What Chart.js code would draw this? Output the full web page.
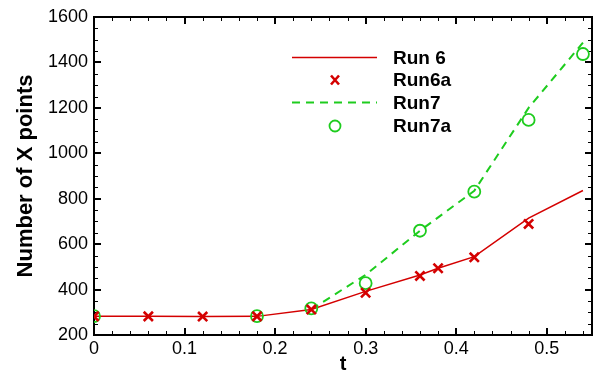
<!DOCTYPE html>
<html>
<head>
<meta charset="utf-8">
<script src="https://cdn.jsdelivr.net/npm/chart.js@4.4.0/dist/chart.umd.min.js"></script>
<style>
  html, body { margin: 0; padding: 0; background: #ffffff; }
  #wrap { width: 604px; height: 371px; position: relative; }
</style>
</head>
<body>
<div id="wrap"><canvas id="xpointsChart"></canvas></div>
<script>
// dados
const run6T  = [0, 0.06, 0.12, 0.18, 0.24, 0.30, 0.36, 0.38, 0.42, 0.48, 0.54];
const run6N  = [282, 282, 281, 282, 312, 392, 464, 494, 545, 715, 836];
const run6aT = [0, 0.06, 0.12, 0.18, 0.24, 0.30, 0.36, 0.38, 0.42, 0.48];
const run6aN = [282, 282, 281, 282, 312, 386, 460, 494, 542, 689];
const run7T  = [0.24, 0.30, 0.36, 0.42, 0.48, 0.54];
const run7N  = [313, 465, 659, 835, 1200, 1487];
const run7aT = [0, 0.18, 0.24, 0.30, 0.36, 0.42, 0.48, 0.54];
const run7aN = [283, 283, 317, 428, 659, 831, 1147, 1437];

const xTicks = [0, 0.1, 0.2, 0.3, 0.4, 0.5];
const yTicks = [200, 400, 600, 800, 1000, 1200, 1400, 1600];

const RED = "#d40000";
const GREEN = "#1ecc1e";
const FONT = "'Liberation Sans', Arial, sans-serif";

function toPoints(ts, ns) {
    return ts.map((t, i) => ({ x: t, y: ns[i] }));
}

// moldura com ticks para dentro (4 lados), major e minor
const frameTicks = {
    id: "frameTicks",
    beforeDatasetsDraw(chart) {
        const { ctx, chartArea: a, scales } = chart;
        const sx = scales.x, sy = scales.y;
        ctx.save();
        ctx.strokeStyle = "#000";
        ctx.lineCap = "butt";

        function tick(len, width, vals, scale, horiz) {
            ctx.lineWidth = width;
            ctx.beginPath();
            vals.forEach(v => {
                const p = Math.round(scale.getPixelForValue(v)) + (width % 2 ? 0.5 : 0);
                if (horiz) {
                    ctx.moveTo(p, a.bottom); ctx.lineTo(p, a.bottom - len);
                    ctx.moveTo(p, a.top); ctx.lineTo(p, a.top + len);
                } else {
                    ctx.moveTo(a.left, p); ctx.lineTo(a.left + len, p);
                    ctx.moveTo(a.right, p); ctx.lineTo(a.right - len, p);
                }
            });
            ctx.stroke();
        }
        const xMinor = [];
        for (let k = 1; k * 0.02 <= 0.55 + 1e-9; k++) if (k % 5) xMinor.push(k * 0.02);
        const yMinor = [];
        for (let v = 250; v < 1600; v += 50) if (v % 200) yMinor.push(v);

        tick(4, 1, xMinor, sx, true);
        tick(7, 2, xTicks, sx, true);
        tick(4, 1, yMinor, sy, false);
        tick(7, 2, yTicks, sy, false);

        ctx.lineWidth = 2;
        ctx.strokeRect(a.left, a.top, a.right - a.left, a.bottom - a.top);
        ctx.restore();
    }
};

// legenda dentro do gráfico
const insideLegend = {
    id: "insideLegend",
    afterDraw(chart) {
        const ctx = chart.ctx;
        const rows = [57.5, 80, 102.5, 126];
        ctx.save();
        chart.data.datasets.forEach((ds, i) => {
            const y = rows[i];
            if (ds.showLine) {
                ctx.strokeStyle = ds.borderColor;
                ctx.lineWidth = ds.borderWidth;
                ctx.setLineDash(ds.borderDash || []);
                ctx.beginPath();
                ctx.moveTo(292, y); ctx.lineTo(377, y);
                ctx.stroke();
                ctx.setLineDash([]);
            } else {
                ctx.strokeStyle = ds.borderColor;
                ctx.lineWidth = ds.borderWidth;
                ctx.beginPath();
                if (ds.pointStyle === "circle") {
                    ctx.arc(335, y, 5.5, 0, Math.PI * 2);
                } else {
                    ctx.moveTo(331, y - 4.5); ctx.lineTo(339, y + 4.5);
                    ctx.moveTo(339, y - 4.5); ctx.lineTo(331, y + 4.5);
                }
                ctx.stroke();
            }
            ctx.fillStyle = "#000";
            ctx.font = "bold 19px " + FONT;
            ctx.textBaseline = "middle";
            ctx.textAlign = "left";
            ctx.fillText(ds.label, 393, y + 1);
        });
        ctx.restore();
    }
};

const ctx = document.getElementById("xpointsChart").getContext("2d");
new Chart(ctx, {
    type: "scatter",
    data: {
        datasets: [
            { label: "Run 6", data: toPoints(run6T, run6N), showLine: true, borderColor: RED, borderWidth: 1.5, pointRadius: 0, order: 2 },
            { label: "Run6a", data: toPoints(run6aT, run6aN), showLine: false, borderColor: RED, backgroundColor: RED, pointStyle: "crossRot", pointRadius: 6.5, borderWidth: 2.6, order: 0 },
            { label: "Run7", data: toPoints(run7T, run7N), showLine: true, borderColor: GREEN, borderWidth: 2, borderDash: [8, 6], pointRadius: 0, order: 3 },
            { label: "Run7a", data: toPoints(run7aT, run7aN), showLine: false, borderColor: GREEN, backgroundColor: "rgba(0,0,0,0)", pointStyle: "circle", pointRadius: 6, borderWidth: 1.8, order: 1 }
        ]
    },
    options: {
        responsive: true,
        maintainAspectRatio: false,
        animation: false,
        layout: { padding: { top: 17, right: 12, left: 0, bottom: 0 } },
        plugins: { legend: { display: false }, tooltip: { enabled: false } },
        scales: {
            x: {
                type: "linear", min: 0, max: 0.55,
                afterFit: s => { s.height = 36; },
                afterBuildTicks: s => { s.ticks = xTicks.map(v => ({ value: v })); },
                grid: { display: false, drawTicks: false },
                border: { display: false },
                ticks: { color: "#000", font: { family: FONT, size: 18 }, padding: 3, maxRotation: 0,
                         callback: v => v === 0 ? "0" : v.toFixed(1) },
                title: { display: true, text: "t", color: "#000", font: { family: FONT, size: 20, weight: "bold", lineHeight: 1 }, padding: { top: 0, bottom: -3 } }
            },
            y: {
                type: "linear", min: 200, max: 1600,
                afterFit: s => { s.width = 94; },
                afterBuildTicks: s => { s.ticks = yTicks.map(v => ({ value: v })); },
                grid: { display: false, drawTicks: false },
                border: { display: false },
                ticks: { color: "#000", font: { family: FONT, size: 18 }, padding: 6, callback: v => String(v) },
                title: { display: true, text: "Number of X points", color: "#000", font: { family: FONT, size: 22, weight: "bold", lineHeight: 1 }, padding: { top: 15, bottom: 0 } }
            }
        }
    },
    plugins: [frameTicks, insideLegend]
});
</script>
</body>
</html>
